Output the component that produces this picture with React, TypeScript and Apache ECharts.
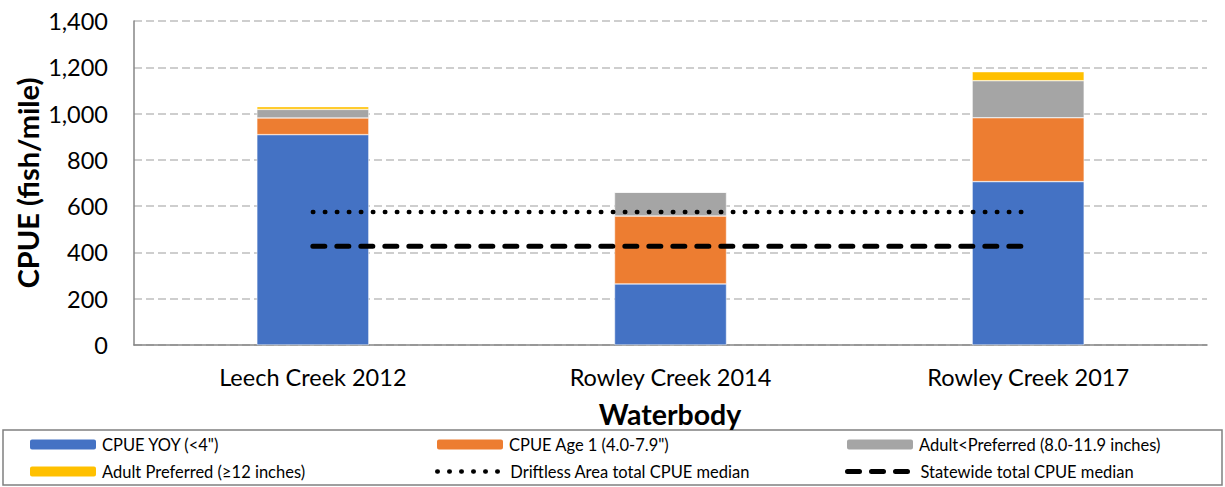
import React, { useEffect, useRef } from "react";
import * as echarts from "echarts";

const categories = ["Leech Creek 2012", "Rowley Creek 2014", "Rowley Creek 2017"];
const yoy = [909, 264, 706];
const age1 = [72, 293, 276];
const adultLess = [37, 103, 160];
const adultPref = [12, 0, 39];
const driftlessMedian = [575, 575, 575];
const statewideMedian = [427, 427, 427];
const yTicks = [0, 200, 400, 600, 800, 1000, 1200, 1400];

const seriesNames = [
  'CPUE YOY (<4")',
  'CPUE Age 1 (4.0-7.9")',
  "Adult<Preferred (8.0-11.9 inches)",
  "Adult Preferred (≥12 inches)",
  "Driftless Area total CPUE median",
  "Statewide total CPUE median",
];

const FONT = "Lato";
const dottedStyle = { color: "#000", width: 4.5, type: [0.5, 11.5], cap: "round" };
const dashedStyle = { color: "#000", width: 5, type: [12, 12], cap: "round" };

export default function App() {
  const ref = useRef<HTMLDivElement>(null);
  useEffect(() => {
    if (!ref.current) return;
    const chart = echarts.init(ref.current, undefined, { renderer: "svg" });
    const legendPos = [
      { left: 28, top: 436 },
      { left: 435, top: 436 },
      { left: 845, top: 436 },
      { left: 28, top: 463 },
      { left: 435, top: 463 },
      { left: 845, top: 463 },
    ];
    const barColors = ["#4472C4", "#ED7D31", "#A5A5A5", "#FFC000"];
    const barData = [yoy, age1, adultLess, adultPref];
    chart.setOption({
      animation: false,
      textStyle: { fontFamily: FONT },
      grid: { left: 134, right: 18, top: 21, bottom: 142, containLabel: false },
      legend: legendPos.map((p, i) => ({
        data: [seriesNames[i]],
        left: p.left,
        top: p.top,
        padding: 0,
        itemWidth: 68,
        itemHeight: 12,
        itemGap: 8,
        textStyle: { fontFamily: FONT, fontSize: 16.5, color: "#000" },
        selectedMode: false,
        ...(i === 4
          ? { lineStyle: { ...dottedStyle }, itemStyle: { opacity: 0 } }
          : i === 5
          ? { lineStyle: { ...dashedStyle }, itemStyle: { opacity: 0 } }
          : {}),
      })),
      xAxis: {
        type: "category",
        data: categories,
        axisLine: { lineStyle: { color: "#868686", width: 1.5 } },
        axisTick: { show: false },
        axisLabel: { fontSize: 23.5, color: "#000", margin: 20, fontFamily: FONT },
      },
      yAxis: {
        type: "value",
        min: 0,
        max: 1400,
        interval: 200,
        axisLine: { show: true, lineStyle: { color: "#868686", width: 1.5 } },
        axisTick: { show: false },
        axisLabel: {
          fontSize: 23.5,
          color: "#000",
          margin: 26,
          fontFamily: FONT,
          formatter: (v: number) => (yTicks.includes(v) ? v.toLocaleString("en-US") : ""),
        },
        splitLine: { lineStyle: { color: "#BFBFBF", width: 1.5, type: [8, 4] } },
      },
      graphic: [
        {
          type: "rect",
          shape: { x: 3, y: 430, width: 1219, height: 55 },
          style: { fill: "none", stroke: "#808080", lineWidth: 1.5 },
        },
        {
          type: "text",
          x: 670,
          y: 414,
          style: {
            text: "Waterbody",
            font: `bold 28.5px ${FONT}`,
            fill: "#000",
            align: "center",
            verticalAlign: "middle",
          },
        },
        {
          type: "text",
          x: 27,
          y: 183,
          rotation: Math.PI / 2,
          style: {
            text: "CPUE (fish/mile)",
            font: `bold 29px ${FONT}`,
            fill: "#000",
            align: "center",
            verticalAlign: "middle",
          },
        },
      ],
      series: [
        ...barData.map((d, i) => ({
          name: seriesNames[i],
          type: "bar",
          stack: "cpue",
          data: d,
          barWidth: 112,
          itemStyle: { color: barColors[i], borderColor: "#fff", borderWidth: 0.5 },
        })),
        {
          name: seriesNames[4],
          type: "line",
          data: driftlessMedian,
          symbol: "none",
          itemStyle: { color: "#000" },
          lineStyle: { ...dottedStyle },
          z: 5,
        },
        {
          name: seriesNames[5],
          type: "line",
          data: statewideMedian,
          symbol: "none",
          itemStyle: { color: "#000" },
          lineStyle: { ...dashedStyle },
          z: 5,
        },
      ],
    });
    return () => chart.dispose();
  }, []);
  return <div ref={ref} style={{ width: 1225, height: 487, position: "absolute", left: 0, top: 0 }} />;
}
